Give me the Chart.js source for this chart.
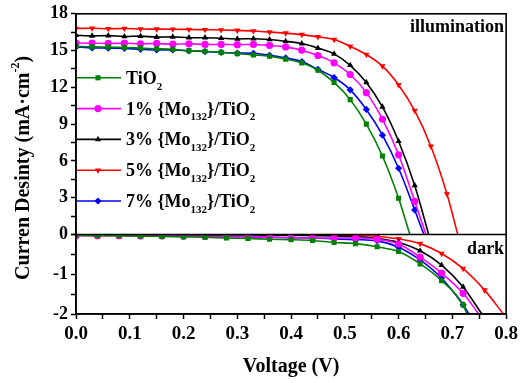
<!DOCTYPE html>
<html>
<head>
<meta charset="utf-8">
<script src="https://cdn.jsdelivr.net/npm/chart.js@4.4.1/dist/chart.umd.min.js"></script>
<style>
  html, body { margin: 0; padding: 0; background: #fff; }
</style>
</head>
<body>
<canvas id="jvChart" width="522" height="383"></canvas>
<script>
/* =========================
   DATA
========================= */
const seriesLabels = ["TiO_2", "1% {Mo_132}/TiO_2", "3% {Mo_132}/TiO_2", "5% {Mo_132}/TiO_2", "7% {Mo_132}/TiO_2"];
const seriesColors = ["#008000", "#ff00ff", "#000000", "#ff0000", "#0000ff"];
const seriesMarkers = ["rect", "circle", "triangle", "triangle", "rectRot"];
const markerRotation = [0, 0, 0, 180, 0];

// illumination (mA/cm2), sampled every 0.03 V
const voltLight = [0, 0.03, 0.06, 0.09, 0.12, 0.15, 0.18, 0.21, 0.24, 0.27, 0.30, 0.33, 0.36, 0.39, 0.42, 0.45, 0.48, 0.51, 0.54, 0.57, 0.60, 0.63, 0.66, 0.69];
const lightTiO2 = [15.35, 15.30, 15.28, 15.25, 15.20, 15.15, 15.10, 15.00, 14.95, 14.85, 14.75, 14.65, 14.55, 14.30, 14.00, 13.40, 12.40, 11.00, 9.00, 6.40, 2.95];
const lightMo1 = [15.62, 15.60, 15.58, 15.60, 15.55, 15.58, 15.52, 15.55, 15.50, 15.50, 15.48, 15.50, 15.42, 15.30, 15.03, 14.60, 14.00, 13.05, 11.57, 9.40, 6.50, 2.70];
const lightMo3 = [16.25, 16.20, 16.22, 16.15, 16.18, 16.10, 16.12, 16.05, 16.05, 16.00, 15.95, 15.97, 15.90, 15.76, 15.57, 15.20, 14.73, 13.80, 12.40, 10.40, 7.60, 4.00];
const lightMo5 = [16.80, 16.82, 16.78, 16.80, 16.76, 16.75, 16.74, 16.72, 16.70, 16.68, 16.65, 16.60, 16.51, 16.42, 16.30, 16.12, 15.90, 15.35, 14.68, 13.73, 12.20, 10.10, 7.20, 3.30];
const lightMo7 = [15.30, 15.22, 15.20, 15.18, 15.10, 15.05, 15.05, 14.98, 14.92, 14.85, 14.80, 14.78, 14.62, 14.40, 14.10, 13.46, 12.80, 11.80, 10.20, 8.10, 5.40, 2.00];
const vocLight = [0.621, 0.651, 0.656, 0.710, 0.647];

// dark (mA/cm2), sampled every 0.04 V
const voltDark = [0, 0.04, 0.08, 0.12, 0.16, 0.20, 0.24, 0.28, 0.32, 0.36, 0.40, 0.44, 0.48, 0.52, 0.56, 0.60, 0.64, 0.68, 0.72, 0.76];
const darkTiO2 = [-0.02, -0.03, -0.03, -0.04, -0.05, -0.06, -0.07, -0.09, -0.10, -0.12, -0.13, -0.15, -0.20, -0.23, -0.31, -0.43, -0.74, -1.16, -1.77];
const darkMo1 = [-0.03, -0.03, -0.03, -0.04, -0.04, -0.04, -0.05, -0.05, -0.05, -0.07, -0.08, -0.09, -0.09, -0.09, -0.12, -0.24, -0.57, -0.97, -1.48];
const darkMo3 = [-0.01, -0.01, -0.01, -0.01, -0.01, -0.01, -0.01, -0.01, -0.01, -0.02, -0.02, -0.03, -0.04, -0.05, -0.10, -0.20, -0.41, -0.77, -1.32];
const darkMo5 = [0, 0, 0, 0, 0, 0, 0, 0, 0, 0, -0.01, -0.01, -0.01, -0.02, -0.05, -0.11, -0.23, -0.48, -0.86, -1.40];
const darkMo7 = [-0.02, -0.02, -0.02, -0.03, -0.03, -0.04, -0.04, -0.05, -0.06, -0.07, -0.08, -0.09, -0.11, -0.13, -0.16, -0.32, -0.64, -1.10, -1.77];
const darkEndVolt = [0.727, 0.749, 0.755, 0.795, 0.731];

const xTicks = [0, 0.1, 0.2, 0.3, 0.4, 0.5, 0.6, 0.7, 0.8];
const yTicksLight = [0, 3, 6, 9, 12, 15, 18];
const yTicksDark = [-2, -1, 0];

const lightSets = [lightTiO2, lightMo1, lightMo3, lightMo5, lightMo7];
const darkSets = [darkTiO2, darkMo1, darkMo3, darkMo5, darkMo7];

/* =========================
   DATASETS
========================= */
const FONT = "'Liberation Serif', 'Times New Roman', serif";

function makeSet(i, pts, axis) {
  return {
    label: seriesLabels[i],
    data: pts,
    yAxisID: axis,
    borderColor: seriesColors[i],
    backgroundColor: seriesColors[i],
    borderWidth: 1.6,
    pointStyle: seriesMarkers[i],
    rotation: markerRotation[i],
    pointRadius: pts.map(p => p.mark ? 3.6 : 0),
    pointBorderWidth: 0,
    cubicInterpolationMode: "monotone"
  };
}

const datasets = [];
lightSets.forEach((vals, i) => {
  const pts = vals.map((j, k) => ({ x: voltLight[k], y: j, mark: true }));
  pts.push({ x: vocLight[i], y: 0, mark: false });
  datasets.push(makeSet(i, pts, "yLight"));
});
darkSets.forEach((vals, i) => {
  const pts = vals.map((j, k) => ({ x: voltDark[k], y: j, mark: true }));
  pts.push({ x: darkEndVolt[i], y: -2, mark: false });
  datasets.push(makeSet(i, pts, "yDark"));
});

/* =========================
   PLUGIN: frame, legend, labels
========================= */
function drawRich(ctx, text, x, y, size) {
  // "_123" -> subscript
  const parts = text.split(/(_\d+)/).filter(s => s.length);
  parts.forEach(p => {
    if (p[0] === "_") {
      ctx.font = `bold ${Math.round(size * 0.62)}px ${FONT}`;
      ctx.fillText(p.slice(1), x, y + size * 0.32);
      x += ctx.measureText(p.slice(1)).width;
    } else {
      ctx.font = `bold ${size}px ${FONT}`;
      ctx.fillText(p, x, y);
      x += ctx.measureText(p).width;
    }
  });
}

const panelDecor = {
  id: "panelDecor",
  afterDatasetsDraw(chart) {
    const { ctx, chartArea: a, scales } = chart;
    const y0 = scales.yLight.getPixelForValue(0);
    ctx.save();
    ctx.strokeStyle = "#000";
    ctx.lineWidth = 1.6;
    ctx.strokeRect(a.left, a.top, a.right - a.left, a.bottom - a.top);
    ctx.beginPath();
    ctx.moveTo(a.left, y0);
    ctx.lineTo(a.right, y0);
    ctx.stroke();

    // panel labels
    ctx.fillStyle = "#000";
    ctx.textAlign = "right";
    ctx.textBaseline = "alphabetic";
    ctx.font = `bold 18px ${FONT}`;
    ctx.fillText("illumination", a.right - 2, a.top + 18);
    ctx.fillText("dark", a.right - 2, y0 + 20);

    // legend
    ctx.textAlign = "left";
    seriesLabels.forEach((lab, i) => {
      const cy = a.top + 64 + i * 30.8;
      ctx.strokeStyle = seriesColors[i];
      ctx.lineWidth = 1.6;
      ctx.beginPath();
      ctx.moveTo(a.left + 1, cy);
      ctx.lineTo(a.left + 45, cy);
      ctx.stroke();
      ctx.fillStyle = seriesColors[i];
      Chart.helpers.drawPoint(ctx, {
        pointStyle: seriesMarkers[i], rotation: markerRotation[i], radius: 3.6, borderWidth: 0
      }, a.left + 22, cy);
      ctx.fillStyle = "#000";
      drawRich(ctx, lab, a.left + 50, cy + 6, 18);
    });

    // y title (spans both panels)
    ctx.translate(24, (a.top + a.bottom) / 2 + 4);
    ctx.rotate(-Math.PI / 2);
    const main = "Curren Desinty (mA\u00b7cm";
    ctx.font = `bold 20px ${FONT}`;
    const w1 = ctx.measureText(main).width;
    ctx.font = `bold 12px ${FONT}`;
    const w2 = ctx.measureText("-2").width;
    ctx.font = `bold 20px ${FONT}`;
    const w3 = ctx.measureText(")").width;
    let x = -(w1 + w2 + w3) / 2;
    ctx.textBaseline = "middle";
    ctx.fillText(main, x, 0);
    x += w1;
    ctx.font = `bold 12px ${FONT}`;
    ctx.fillText("-2", x, -8);
    x += w2;
    ctx.font = `bold 20px ${FONT}`;
    ctx.fillText(")", x, 0);
    ctx.restore();
  }
};

/* =========================
   CHART
========================= */
const axisGrid = { display: true, drawOnChartArea: false, drawTicks: true, tickLength: 5, color: "#000", tickWidth: 1.5 };
const axisBorder = { display: true, color: "#000", width: 1.6 };

new Chart(document.getElementById("jvChart"), {
  type: "line",
  data: { datasets },
  plugins: [panelDecor],
  options: {
    responsive: false,
    animation: false,
    layout: { padding: { top: 12, right: 11, left: 0, bottom: 0 } },
    plugins: { legend: { display: false }, tooltip: { enabled: false } },
    scales: {
      x: {
        type: "linear", min: 0, max: 0.8,
        grid: axisGrid, border: axisBorder,
        ticks: {
          stepSize: 0.05, color: "#000", padding: 4, maxRotation: 0, autoSkip: false,
          font: { family: FONT, size: 19, weight: "bold" },
          callback: v => xTicks.some(t => Math.abs(t - v) < 1e-6) ? v.toFixed(1) : ""
        },
        title: { display: true, text: "Voltage (V)", color: "#000", padding: { top: 8 }, font: { family: FONT, size: 20, weight: "bold" } },
        afterFit: s => { s.height = 69; }
      },
      yDark: {
        type: "linear", min: -2, max: 0, position: "left", stack: "jv", stackWeight: 80,
        grid: axisGrid, border: axisBorder,
        ticks: {
          stepSize: 0.5, color: "#000", padding: 3, autoSkip: false,
          font: { family: FONT, size: 18, weight: "bold" },
          callback: v => (yTicksDark.includes(v) && v !== 0) ? String(v) : ""
        },
        afterFit: s => { s.width = 76; }
      },
      yLight: {
        type: "linear", min: 0, max: 18, position: "left", stack: "jv", stackWeight: 222,
        grid: axisGrid, border: axisBorder,
        ticks: {
          stepSize: 1.5, color: "#000", padding: 3, autoSkip: false,
          font: { family: FONT, size: 18, weight: "bold" },
          callback: v => yTicksLight.includes(v) ? String(v) : ""
        },
        afterFit: s => { s.width = 76; }
      }
    }
  }
});
</script>
</body>
</html>
